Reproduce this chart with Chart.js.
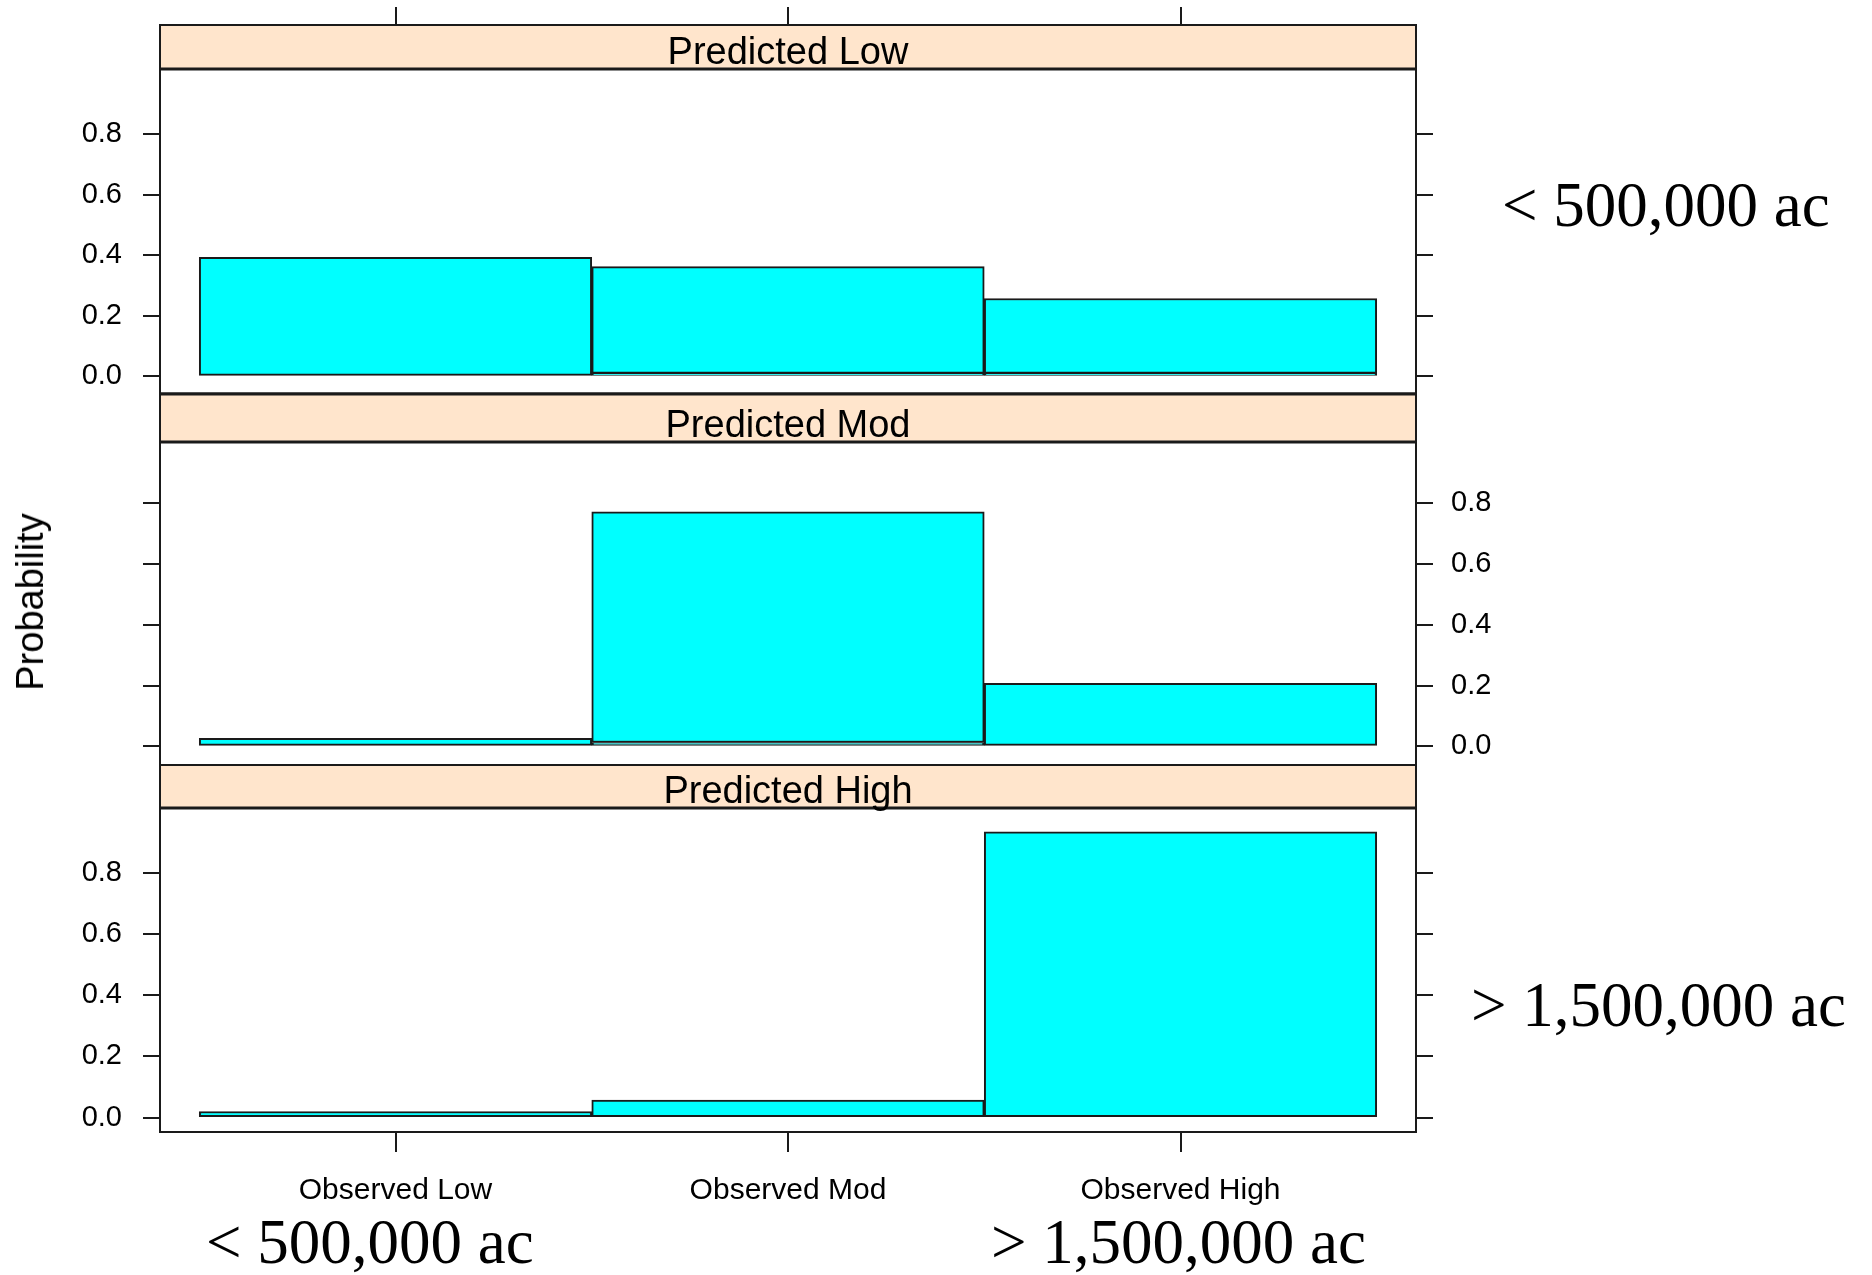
<!DOCTYPE html>
<html>
<head>
<meta charset="utf-8">
<script src="https://cdn.jsdelivr.net/npm/chart.js@4.4.1/dist/chart.umd.min.js"></script>
<style>
  html, body { margin: 0; padding: 0; background: #fff; }
  #wrap { position: relative; width: 1872px; height: 1275px; overflow: hidden; background: #fff; }
  #wrap canvas { position: absolute; left: 0; top: 0; }
  .note {
    position: absolute;
    font-family: 'Liberation Serif', 'Times New Roman', serif;
    font-size: 63px;
    line-height: 1;
    color: #000;
    white-space: nowrap;
  }
  #ytitle {
    position: absolute;
    left: 30px;
    top: 602px;
    font-family: 'Liberation Sans', Arial, sans-serif;
    font-size: 38px;
    line-height: 1;
    color: #000;
    white-space: nowrap;
    transform: translate(-50%, -50%) rotate(-90deg);
  }
</style>
</head>
<body>
<div id="wrap">
  <canvas id="p0" width="1872" height="1275"></canvas>
  <canvas id="p1" width="1872" height="1275"></canvas>
  <canvas id="p2" width="1872" height="1275"></canvas>
  <div id="ytitle">Probability</div>
  <div class="note" style="left:1502px; top:174px;">&lt; 500,000 ac</div>
  <div class="note" style="left:1471px; top:974px;">&gt; 1,500,000 ac</div>
  <div class="note" style="left:206px; top:1211px;">&lt; 500,000 ac</div>
  <div class="note" style="left:991px; top:1211px;">&gt; 1,500,000 ac</div>
</div>
<script>
const categories = ['Observed Low', 'Observed Mod', 'Observed High'];
const panelNames = ['Predicted Low', 'Predicted Mod', 'Predicted High'];
const predictedLow = [0.393, 0.352, 0.247];
const predictedMod = [0.027, 0.758, 0.207];
const predictedHigh = [0.02, 0.057, 0.933];
// thin slivers sitting under some bars
const baseLow = [0, 0.01, 0.01];
const baseMod = [0, 0.013, 0];
const baseHigh = [0, 0, 0];
const yTicks = [0, 0.2, 0.4, 0.6, 0.8];

const FONT = "'Liberation Sans', Arial, sans-serif";
const CYAN = '#00ffff';
const STRIP = '#ffe5cc';
const LINE = '#1a1a1a';

// panel boxes (pixels) and y ranges
const panels = [
  { id: 'p0', name: panelNames[0], values: predictedLow, base: baseLow,
    stripTop: 25, top: 69, bottom: 394, yMin: -0.058, yMax: 1.014,
    labels: 'left', topTicks: true, xAxis: false, stripTopW: 2, bottomW: 3 },
  { id: 'p1', name: panelNames[1], values: predictedMod, base: baseMod,
    stripTop: 394, top: 442, bottom: 765, yMin: -0.061, yMax: 1.0,
    labels: 'right', topTicks: false, xAxis: false, stripTopW: 3, bottomW: 2 },
  { id: 'p2', name: panelNames[2], values: predictedHigh, base: baseHigh,
    stripTop: 765, top: 808, bottom: 1132, yMin: -0.047, yMax: 1.011,
    labels: 'left', topTicks: false, xAxis: true, stripTopW: 2, bottomW: 2 },
];

const latticeFrame = {
  id: 'latticeFrame',
  beforeDraw(chart, args, opts) {
    const p = opts.panel;
    const a = chart.chartArea;
    const ctx = chart.ctx;
    ctx.save();
    ctx.fillStyle = STRIP;
    ctx.fillRect(a.left, p.stripTop, a.right - a.left, a.top - p.stripTop);
    ctx.restore();
  },
  afterDraw(chart, args, opts) {
    const p = opts.panel;
    const a = chart.chartArea;
    const ctx = chart.ctx;
    ctx.save();
    ctx.strokeStyle = LINE;

    const hline = (y, w) => {
      ctx.lineWidth = w;
      ctx.beginPath();
      ctx.moveTo(a.left - 1, y);
      ctx.lineTo(a.right + 1, y);
      ctx.stroke();
    };
    hline(p.stripTop, p.stripTopW);
    hline(a.top, 3);
    hline(a.bottom, p.bottomW);

    ctx.lineWidth = 2;
    ctx.beginPath();
    ctx.moveTo(a.left, p.stripTop);
    ctx.lineTo(a.left, a.bottom);
    ctx.moveTo(a.right, p.stripTop);
    ctx.lineTo(a.right, a.bottom);
    ctx.stroke();

    if (p.topTicks) {
      const x = chart.scales.x;
      ctx.beginPath();
      categories.forEach((c, i) => {
        const px = Math.round(x.getPixelForValue(i));
        ctx.moveTo(px, p.stripTop - 18);
        ctx.lineTo(px, p.stripTop);
      });
      ctx.stroke();
    }

    ctx.fillStyle = '#000';
    ctx.font = '38px ' + FONT;
    ctx.textAlign = 'center';
    ctx.textBaseline = 'alphabetic';
    ctx.fillText(p.name, (a.left + a.right) / 2, a.top - 5);
    ctx.restore();
  }
};

function yAxis(p, side) {
  return {
    type: 'linear',
    position: side,
    min: p.yMin,
    max: p.yMax,
    stacked: true,
    afterBuildTicks: s => { s.ticks = yTicks.map(v => ({ value: v })); },
    afterFit: s => { s.width = side === 'left' ? 160 : 1872 - 1416; },
    grid: { drawOnChartArea: false, drawTicks: true, tickLength: 17, color: LINE, lineWidth: 2 },
    border: { display: false },
    ticks: {
      display: p.labels === side,
      padding: side === 'left' ? 21 : 18,
      color: '#000',
      font: { family: FONT, size: 29 },
      callback: v => Number(v).toFixed(1)
    }
  };
}

panels.forEach(p => {
  const xAxisH = 80;
  new Chart(document.getElementById(p.id), {
    type: 'bar',
    data: {
      datasets: [
        {
          data: p.base.map((v, i) => ({ x: i, y: v })),
          backgroundColor: CYAN,
          borderColor: LINE,
          borderWidth: 2,
          borderSkipped: false,
          categoryPercentage: 1,
          barPercentage: 1
        },
        {
          data: p.values.map((v, i) => ({ x: i, y: v })),
          backgroundColor: CYAN,
          borderColor: LINE,
          borderWidth: 2,
          borderSkipped: false,
          categoryPercentage: 1,
          barPercentage: 1
        }
      ]
    },
    options: {
      responsive: false,
      animation: false,
      devicePixelRatio: 1,
      layout: {
        padding: {
          left: 0,
          right: 0,
          top: p.top,
          bottom: p.xAxis ? 1275 - p.bottom - xAxisH : 1275 - p.bottom
        }
      },
      plugins: {
        legend: { display: false },
        tooltip: { enabled: false },
        latticeFrame: { panel: p }
      },
      scales: {
        x: {
          type: 'linear',
          min: -0.6,
          max: 2.6,
          offset: false,
          stacked: true,
          display: p.xAxis,
          afterBuildTicks: s => { s.ticks = categories.map((c, i) => ({ value: i })); },
          afterFit: s => { s.height = p.xAxis ? xAxisH : 0; },
          grid: { offset: false, drawOnChartArea: false, drawTicks: true, tickLength: 20, color: LINE, lineWidth: 2 },
          border: { display: false },
          ticks: {
            padding: 21,
            maxRotation: 0,
            autoSkip: false,
            color: '#000',
            font: { family: FONT, size: 30 },
            callback: v => categories[v] ?? ''
          }
        },
        y: yAxis(p, 'left'),
        y2: yAxis(p, 'right')
      }
    },
    plugins: [latticeFrame]
  });
});
</script>
</body>
</html>
